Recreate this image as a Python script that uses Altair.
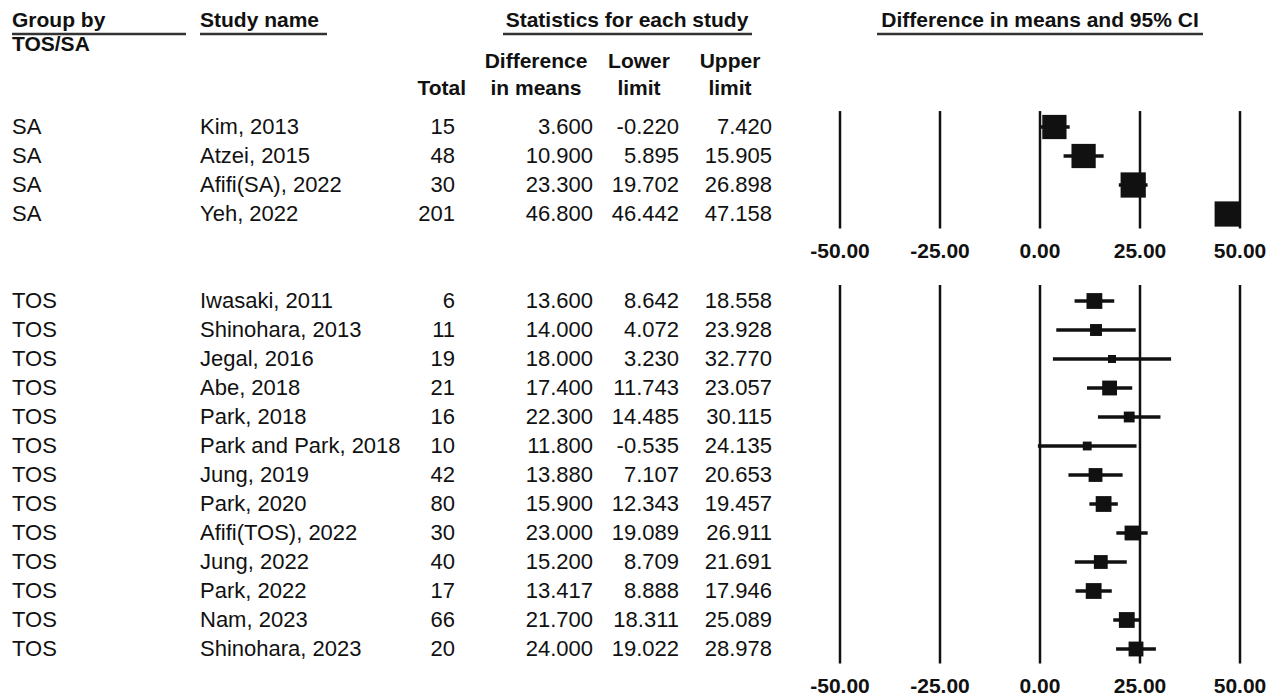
import altair as alt
import pandas as pd

# ---- study-level data -------------------------------------------------------
groups = ["SA"] * 4 + ["TOS"] * 13
studies = [
    "Kim, 2013", "Atzei, 2015", "Afifi(SA), 2022", "Yeh, 2022",
    "Iwasaki, 2011", "Shinohara, 2013", "Jegal, 2016", "Abe, 2018",
    "Park, 2018", "Park and Park, 2018", "Jung, 2019", "Park, 2020",
    "Afifi(TOS), 2022", "Jung, 2022", "Park, 2022", "Nam, 2023",
    "Shinohara, 2023",
]
totals = [15, 48, 30, 201, 6, 11, 19, 21, 16, 10, 42, 80, 30, 40, 17, 66, 20]
diffs = [3.600, 10.900, 23.300, 46.800, 13.600, 14.000, 18.000, 17.400,
         22.300, 11.800, 13.880, 15.900, 23.000, 15.200, 13.417, 21.700, 24.000]
lowers = [-0.220, 5.895, 19.702, 46.442, 8.642, 4.072, 3.230, 11.743,
          14.485, -0.535, 7.107, 12.343, 19.089, 8.709, 8.888, 18.311, 19.022]
uppers = [7.420, 15.905, 26.898, 47.158, 18.558, 23.928, 32.770, 23.057,
          30.115, 24.135, 20.653, 19.457, 26.911, 21.691, 17.946, 25.089, 28.978]
# relative weight (%) of each study within its subgroup
weights = [24.0, 24.0, 26.0, 26.0,
           10.2, 5.8, 2.6, 9.0, 4.8, 3.2, 7.8, 10.2, 9.0, 7.8, 10.2, 10.2, 9.0]

tick_values = [-50, -25, 0, 25, 50]
tick_labels = ["-50.00", "-25.00", "0.00", "25.00", "50.00"]

FONT = "Liberation Sans"
INK = "#111111"

# ---- tables ------------------------------------------------------------------
df = pd.DataFrame(dict(group=groups, study=studies, total=totals, diff=diffs,
                       lower=lowers, upper=uppers, weight=weights))

# one row per study, two empty rows between subgroups
offsets, start = {}, 0
for g in dict.fromkeys(groups):
    offsets[g] = start
    start += groups.count(g) + 2
df["row"] = df.groupby("group", sort=False).cumcount() + df["group"].map(offsets)
df["total_txt"] = df["total"].astype(str)
for c in ["diff", "lower", "upper"]:
    df[c + "_txt"] = df[c].map(lambda v: f"{v:.3f}")

panels = df.groupby("group", sort=False)["row"].agg(["min", "max"]).reset_index()
grid_rows = []
for _, p in panels.iterrows():
    for v, lab in zip(tick_values, tick_labels):
        grid_rows.append(dict(group=p["group"], tick=v, label=lab,
                              top=p["min"] - 0.55, bottom=p["max"] + 0.5,
                              label_row=p["max"] + 1.3))
grid_df = pd.DataFrame(grid_rows)

# ---- scales ------------------------------------------------------------------
x_scale = alt.Scale(domain=[-260, 57.5], nice=False, zero=False)
y_scale = alt.Scale(domain=[-127 / 29, 573 / 29], nice=False, zero=False, reverse=True)


def X(field):
    return alt.X(field, scale=x_scale, axis=None)


def Y(field):
    return alt.Y(field, scale=y_scale, axis=None)


# ---- forest panel ------------------------------------------------------------
grid = alt.Chart(grid_df).mark_rule(color=INK, strokeWidth=2.5).encode(
    x=X("tick:Q"), y=Y("top:Q"), y2="bottom:Q"
)
tick_text = alt.Chart(grid_df).mark_text(
    font=FONT, fontSize=21, fontWeight="bold", color=INK, baseline="middle"
).encode(x=X("tick:Q"), y=Y("label_row:Q"), text="label:N")

ci = alt.Chart(df).mark_rule(color=INK, strokeWidth=3.5).encode(
    x=X("lower:Q"), x2="upper:Q", y=Y("row:Q")
)
boxes = alt.Chart(df).mark_point(shape="square", filled=True, opacity=1, color=INK).encode(
    x=X("diff:Q"), y=Y("row:Q"),
    size=alt.Size("weight:Q", scale=alt.Scale(domain=[0, 100], range=[0, 2450]), legend=None),
)


# ---- table columns -----------------------------------------------------------
def column(field, x, align):
    return alt.Chart(df).mark_text(
        align=align, baseline="middle", font=FONT, fontSize=22, color=INK
    ).encode(x=alt.value(x), y=Y("row:Q"), text=f"{field}:N")


cols = [
    column("group", 12, "left"),
    column("study", 200, "left"),
    column("total_txt", 455, "right"),
    column("diff_txt", 593, "right"),
    column("lower_txt", 679, "right"),
    column("upper_txt", 772, "right"),
]


def header(text, x, y, align="left", size=21):
    return alt.Chart(pd.DataFrame({"t": [text]})).mark_text(
        align=align, baseline="middle", font=FONT, fontSize=size,
        fontWeight="bold", color=INK
    ).encode(x=alt.value(x), y=alt.value(y), text="t:N")


def underline(x0, x1, y):
    return alt.Chart(pd.DataFrame({"t": [0]})).mark_rule(
        color="#333333", strokeWidth=2.5
    ).encode(x=alt.value(x0), x2=alt.value(x1), y=alt.value(y))


heads = [
    header("Group by", 12, 21),
    underline(12, 186, 34),
    header("TOS/SA", 12, 45),
    header("Study name", 200, 21),
    underline(200, 327, 34),
    header("Statistics for each study", 627, 21, "center"),
    underline(503, 752, 34),
    header("Difference in means and 95% CI", 1040, 21, "center"),
    underline(877, 1203, 34),
    header("Total", 466, 89, "right"),
    header("Difference", 536, 62, "center"),
    header("in means", 536, 89, "center"),
    header("Lower", 639, 62, "center"),
    header("limit", 639, 89, "center"),
    header("Upper", 730, 62, "center"),
    header("limit", 730, 89, "center"),
]

chart = alt.layer(grid, tick_text, ci, boxes, *cols, *heads).properties(
    width=1270, height=700, padding=0,
    autosize=alt.AutoSizeParams(type="none"), background="white",
).configure_view(stroke=None)

chart.save("out.html", embed_options={"renderer": "svg", "actions": False})
